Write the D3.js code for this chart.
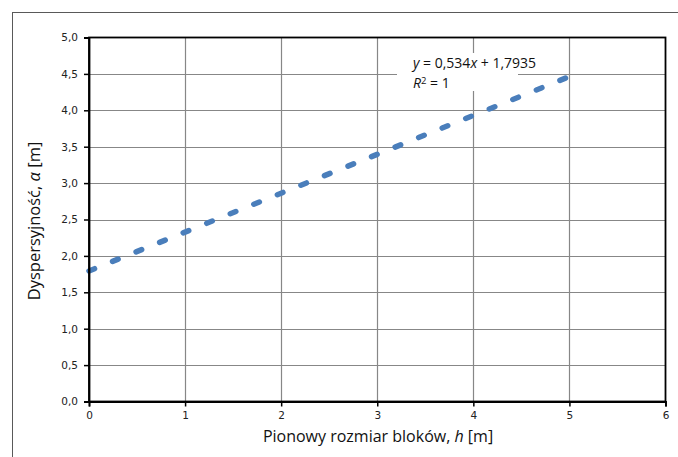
<!DOCTYPE html>
<html>
<head>
<meta charset="utf-8">
<script src="https://cdn.jsdelivr.net/npm/d3@7"></script>
<style>
  html, body { margin: 0; padding: 0; background: #fff; }
  svg { display: block; }
  .tick text { font-family: "DejaVu Sans", Verdana, sans-serif; font-size: 10.5px; fill: #222; }
  .title { font-family: "Open Sans", "Noto Sans", sans-serif; fill: #111; }
</style>
</head>
<body>
<svg id="chart" width="678" height="457"></svg>
<script>
// Axis domains and ticks
const xTicks = [0, 1, 2, 3, 4, 5, 6];
const yTicks = [0, 0.5, 1, 1.5, 2, 2.5, 3, 3.5, 4, 4.5, 5];
// Linear trendline: alpha = slope * h + intercept, over h in [0, 5]
const trendSlope = 0.534;
const trendIntercept = 1.7935;
const trendRange = [0, 5];
const rSquared = 1;

const fmt = v => d3.format(".1f")(v).replace(".", ",");
const fmtNum = v => String(v).replace(".", ",");

const svg = d3.select("#chart");
const plot = { left: 89, right: 665.5, top: 37.5, bottom: 401.5 };

const x = d3.scaleLinear().domain([0, 6]).range([plot.left, plot.right]);
const y = d3.scaleLinear().domain([0, 5]).range([plot.bottom, plot.top]);

// Outer chart frame
svg.append("rect")
  .attr("x", 12.5).attr("y", 12.5).attr("width", 700).attr("height", 500)
  .attr("fill", "none").attr("stroke", "#595959").attr("stroke-width", 1);

// Gridlines
const grid = svg.append("g").attr("stroke", "#878787").attr("stroke-width", 1.2);
grid.selectAll("line.h").data(yTicks.slice(1, -1)).join("line")
  .attr("x1", plot.left).attr("x2", plot.right)
  .attr("y1", d => Math.round(y(d)) + 0.5).attr("y2", d => Math.round(y(d)) + 0.5);
grid.selectAll("line.v").data(xTicks.slice(1, -1)).join("line")
  .attr("y1", plot.top).attr("y2", plot.bottom)
  .attr("x1", d => Math.round(x(d)) + 0.5).attr("x2", d => Math.round(x(d)) + 0.5);

// Equation label background (hides gridlines behind it)
svg.append("rect")
  .attr("x", 397).attr("y", 53).attr("width", 121).attr("height", 38)
  .attr("fill", "#fff");

// Trendline
const trendData = trendRange.map(h => ({ h, a: trendSlope * h + trendIntercept }));
svg.append("path")
  .datum(trendData)
  .attr("d", d3.line().x(d => x(d.h)).y(d => y(d.a)))
  .attr("fill", "none")
  .attr("stroke", "#4a7ebb")
  .attr("stroke-width", 5.5)
  .attr("stroke-linecap", "round")
  .attr("stroke-dasharray", "6,19.4");

// Plot border
svg.append("rect")
  .attr("x", plot.left).attr("y", plot.top)
  .attr("width", plot.right - plot.left).attr("height", plot.bottom - plot.top)
  .attr("fill", "none").attr("stroke", "#000").attr("stroke-width", 1.8);

// Axes
const yAxis = d3.axisLeft(y).tickValues(yTicks).tickFormat(fmt).tickSize(5).tickPadding(6);
const gy = svg.append("g").attr("transform", `translate(${plot.left},0)`).call(yAxis);
const xAxis = d3.axisBottom(x).tickValues(xTicks).tickFormat(d => d).tickSize(5).tickPadding(5);
const gx = svg.append("g").attr("transform", `translate(0,${plot.bottom})`).call(xAxis);
[gx, gy].forEach(g => {
  g.select(".domain").attr("stroke", "#000").attr("stroke-width", 1.8);
  g.selectAll(".tick line").attr("stroke", "#000").attr("stroke-width", 1.5);
});

// Trendline equation
const eq = svg.append("text").attr("class", "title").attr("x", 413).attr("y", 68)
  .attr("font-size", 14);
eq.append("tspan").attr("font-style", "italic").text("y");
eq.append("tspan").text(` = ${fmtNum(trendSlope)}`);
eq.append("tspan").attr("font-style", "italic").text("x");
eq.append("tspan").text(` + ${fmtNum(trendIntercept)}`);

// Coefficient of determination
const r2 = svg.append("text").attr("class", "title").attr("x", 413).attr("y", 88)
  .attr("font-size", 14);
r2.append("tspan").attr("font-style", "italic").text("R");
r2.append("tspan").attr("font-size", 9.5).attr("dy", -4).text("2");
r2.append("tspan").attr("dy", 4).text(` = ${rSquared}`);

// Axis titles
const xt = svg.append("text").attr("class", "title")
  .attr("x", 378).attr("y", 442).attr("text-anchor", "middle").attr("font-size", 16);
xt.append("tspan").text("Pionowy rozmiar bloków, ");
xt.append("tspan").attr("font-style", "italic").text("h");
xt.append("tspan").text(" [m]");

const yt = svg.append("text").attr("class", "title")
  .attr("transform", "translate(40,221) rotate(-90)")
  .attr("text-anchor", "middle").attr("font-size", 16.5);
yt.append("tspan").text("Dyspersyjność, ");
yt.append("tspan").attr("font-style", "italic").text("α");
yt.append("tspan").text(" [m]");
</script>
</body>
</html>
